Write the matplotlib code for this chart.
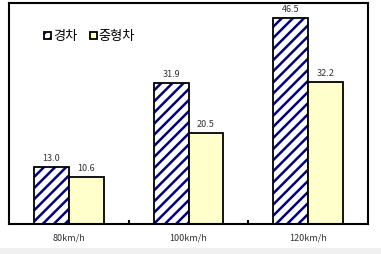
import matplotlib.pyplot as plt
import numpy as np

plt.rcParams['font.family'] = ['Noto Sans CJK KR', 'DejaVu Sans']
plt.rcParams['hatch.linewidth'] = 1.8

categories = ["80km/h", "100km/h", "120km/h"]
series_names = ["경차", "중형차"]
light_car = [13.0, 31.9, 46.5]
mid_car = [10.6, 20.5, 32.2]

fig = plt.figure(figsize=(3.81, 2.54), dpi=100)
fig.patch.set_facecolor("white")

# light gray strip at the bottom
fig.patches.append(plt.Rectangle((0, 0), 1, 6 / 254, transform=fig.transFigure,
                                 facecolor="#f0f0f0", edgecolor="none", zorder=0))

ax = fig.add_axes([9 / 381, 30 / 254, 359 / 381, 221 / 254])

x = np.arange(len(categories))
w = 0.29

b1 = ax.bar(x - w / 2, light_car, w, facecolor="white", edgecolor="black",
            hatch="///", linewidth=1.3, label=series_names[0])
for p in b1:
    p._hatch_color = (0, 0, 0.5, 1)
b2 = ax.bar(x + w / 2, mid_car, w, facecolor="#ffffcc", edgecolor="black",
            linewidth=1.3, label=series_names[1])

for xi, v in zip(x - w / 2, light_car):
    ax.text(xi, v + 0.9, f"{v:.1f}", ha="center", va="bottom", fontsize=6.5,
            color="#333333")
for xi, v in zip(x + w / 2, mid_car):
    ax.text(xi, v + 0.9, f"{v:.1f}", ha="center", va="bottom", fontsize=6.5,
            color="#333333")

ax.set_xlim(-0.5, 2.5)
ax.set_ylim(0, 50)
ax.set_yticks([])
ax.set_xticks(x)
ax.set_xticklabels(categories, fontsize=6.5, color="#333333")
ax.tick_params(axis="x", length=0, pad=7)
ax.set_xticks([0.5, 1.5], minor=True)
ax.tick_params(axis="x", which="minor", direction="in", length=3, width=1.5)

for s in ax.spines.values():
    s.set_linewidth(1.5)

leg = ax.legend(loc="upper left", bbox_to_anchor=(0.065, 0.93), ncol=2,
                frameon=False, fontsize=9.5, handlelength=0.5, handleheight=0.5,
                handletextpad=0.15, columnspacing=1.0)

plt.savefig("out.png", dpi=100)
